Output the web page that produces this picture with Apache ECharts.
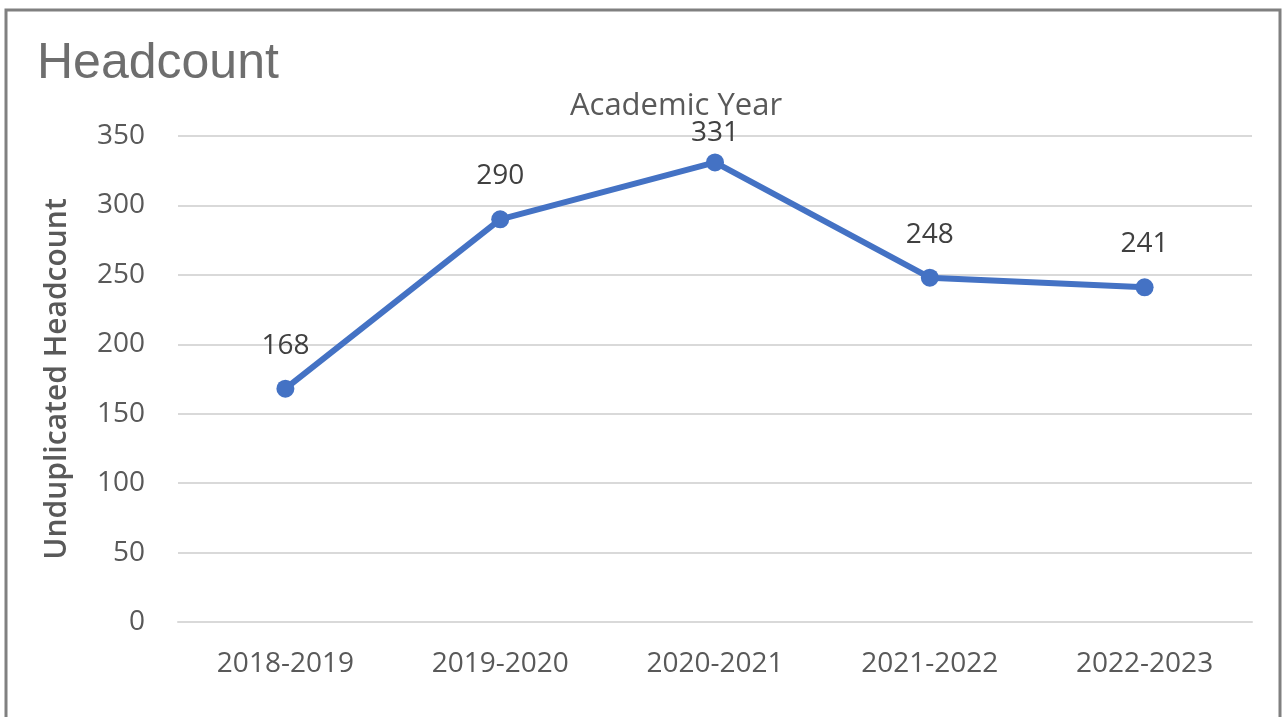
<!DOCTYPE html>
<html>
<head>
<meta charset="utf-8">
<script src="https://cdn.jsdelivr.net/npm/echarts@6/dist/echarts.min.js"></script>
<style>
  html, body { margin: 0; padding: 0; background: #fff; }
  #chart { width: 1286px; height: 717px; }
</style>
</head>
<body>
<div id="chart"></div>
<script>
// Academic years and unduplicated headcount per year
const years = ['2018-2019', '2019-2020', '2020-2021', '2021-2022', '2022-2023'];
const headcount = [168, 290, 331, 248, 241];
const yTicks = { min: 0, max: 350, interval: 50 };

const FONT = '"Open Sans", "Noto Sans", sans-serif';
const GREY = '#595959';

const chart = echarts.init(document.getElementById('chart'), null, { renderer: 'canvas' });

// The peak label sits closer to its point so it stays below the axis title
const seriesData = headcount.map((v) => {
  const item = { value: v };
  if (v === Math.max(...headcount)) item.label = { distance: 6 };
  return item;
});

chart.setOption({
  animation: false,
  backgroundColor: '#fff',
  graphic: [{
    type: 'rect',
    shape: { x: 6, y: 10, width: 1274, height: 740 },
    style: { fill: 'none', stroke: '#808080', lineWidth: 3 },
    silent: true
  }],
  title: [{
    text: 'Headcount',
    left: 32, top: 34,
    textStyle: { fontFamily: '"Liberation Sans", Arial, sans-serif', fontSize: 50, fontWeight: 'normal', color: '#6e6e6e' }
  }, {
    text: 'Academic Year',
    left: 671, top: 86, textAlign: 'center',
    textStyle: { fontFamily: FONT, fontSize: 31, fontWeight: 'normal', color: GREY }
  }],
  grid: { left: 178, right: 34, top: 136, bottom: 95, containLabel: false },
  xAxis: {
    type: 'category',
    data: years,
    boundaryGap: true,
    axisLine: { show: true, lineStyle: { color: '#d9d9d9', width: 2 } },
    axisTick: { show: false },
    axisLabel: { color: GREY, fontFamily: FONT, fontSize: 28, margin: 28 }
  },
  yAxis: {
    type: 'value',
    min: yTicks.min, max: yTicks.max, interval: yTicks.interval,
    name: 'Unduplicated Headcount',
    nameLocation: 'middle',
    nameGap: 106,
    nameTextStyle: { color: GREY, fontFamily: FONT, fontSize: 30, fontWeight: 600 },
    axisLine: { show: false },
    axisTick: { show: false },
    axisLabel: { color: GREY, fontFamily: FONT, fontSize: 28, margin: 33 },
    splitLine: { lineStyle: { color: '#d9d9d9', width: 2 } }
  },
  series: [{
    type: 'line',
    data: seriesData,
    symbol: 'circle',
    symbolSize: 18,
    lineStyle: { color: '#4472c4', width: 6 },
    itemStyle: { color: '#4472c4' },
    label: {
      show: true, position: 'top', distance: 20,
      color: '#404040', fontFamily: FONT, fontSize: 28
    }
  }]
});
</script>
</body>
</html>
